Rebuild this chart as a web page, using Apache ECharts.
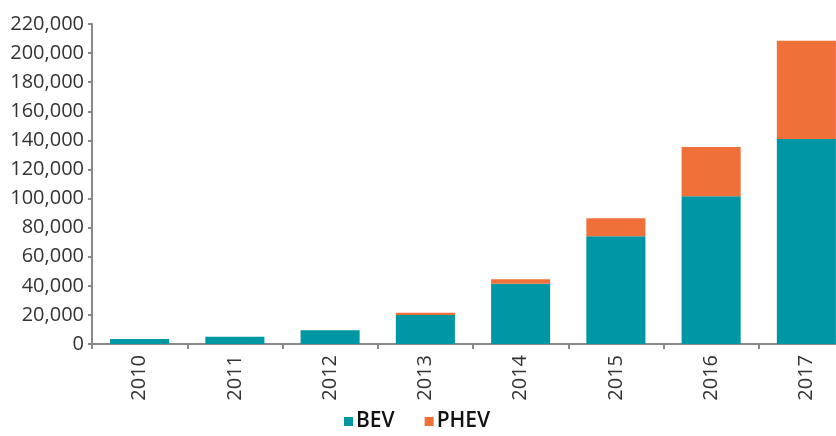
<!DOCTYPE html>
<html>
<head>
<meta charset="utf-8">
<script src="https://cdn.jsdelivr.net/npm/echarts@6/dist/echarts.min.js"></script>
<style>
  html, body { margin: 0; padding: 0; background: #fff; overflow: hidden; }
  #chartBox { width: 854px; height: 436px; }
</style>
</head>
<body>
<div id="chartBox"></div>
<script>
// 年份
const years = ['2010', '2011', '2012', '2013', '2014', '2015', '2016', '2017']
// 纯电动
const bev = [3500, 5000, 9500, 20000, 41500, 74000, 101500, 141000]
// 插电混动
const phev = [0, 0, 0, 1500, 3000, 12500, 34000, 67500]

const font = '"Open Sans", "Noto Sans", sans-serif'

// 图表比窗口宽一点，最后一根柱子被右边裁掉
let myChart = echarts.init(document.getElementById('chartBox'))
myChart.setOption({
  animation: false,
  grid: {
    left: 92,
    right: 0,
    top: 24,
    bottom: 92,
    containLabel: false
  },
  legend: {
    top: 406,
    left: 339,
    itemWidth: 9,
    itemHeight: 9,
    itemGap: 30,
    icon: 'rect',
    textStyle: {
      fontFamily: font,
      fontSize: 21,
      fontWeight: 600,
      color: '#111',
      padding: [0, 0, 0, -2]
    },
    data: ['BEV', 'PHEV']
  },
  xAxis: {
    type: 'category',
    data: years,
    axisLine: { lineStyle: { color: '#888', width: 2 } },
    axisTick: { show: true, length: 5, lineStyle: { color: '#888', width: 2 } },
    axisLabel: {
      rotate: 90,
      margin: 11,
      fontFamily: font,
      fontSize: 20,
      color: '#333'
    }
  },
  yAxis: {
    type: 'value',
    min: 0,
    max: 220000,
    interval: 20000,
    splitLine: { show: false },
    axisLine: { show: true, lineStyle: { color: '#888', width: 2 } },
    axisTick: { show: true, length: 4, lineStyle: { color: '#888', width: 2 } },
    axisLabel: {
      margin: 8,
      fontFamily: font,
      fontSize: 20,
      color: '#333',
      formatter: v => v.toLocaleString('en-US')
    }
  },
  series: [
    {
      name: 'BEV',
      type: 'bar',
      stack: 'total',
      barWidth: '62%',
      itemStyle: { color: '#0097A5' },
      data: bev
    },
    {
      name: 'PHEV',
      type: 'bar',
      stack: 'total',
      itemStyle: { color: '#F07039' },
      data: phev
    }
  ]
})
</script>
</body>
</html>
